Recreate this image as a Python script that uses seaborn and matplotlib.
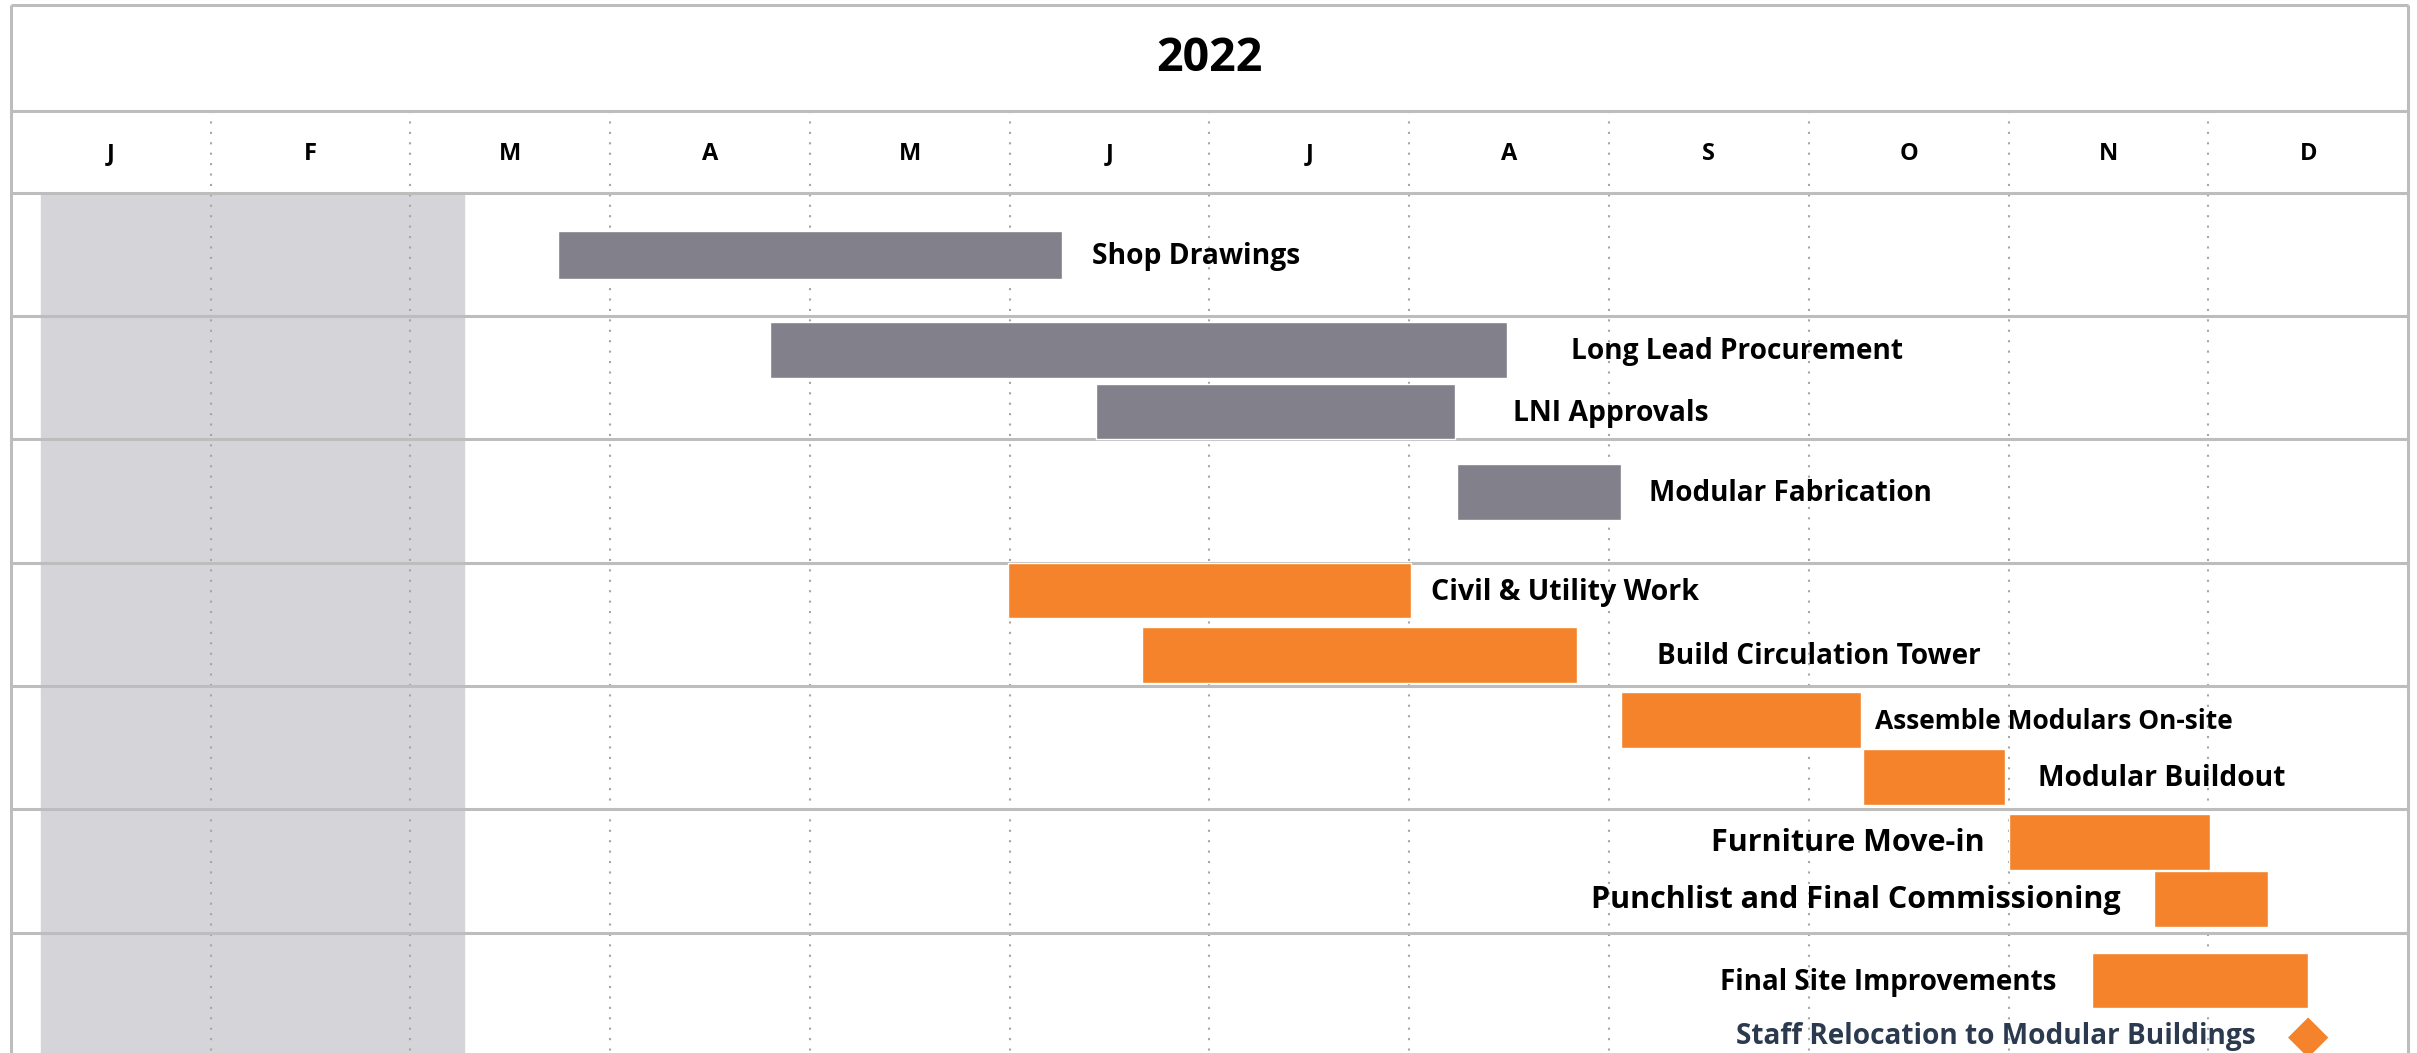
import matplotlib.pyplot as plt
import seaborn as sns
import pandas as pd

# data ---------------------------------------------------------------
year = "2022"
months = ["J", "F", "M", "A", "M", "J", "J", "A", "S", "O", "N", "D"]
tasks = ["Shop Drawings", "Long Lead Procurement", "LNI Approvals",
         "Modular Fabrication", "Civil & Utility Work", "Build Circulation Tower",
         "Assemble Modulars On-site", "Modular Buildout", "Furniture Move-in",
         "Punchlist and Final Commissioning", "Final Site Improvements"]
# start / finish in months from 1 Jan
starts = [2.74, 3.80, 5.43, 7.24, 4.99, 5.66, 8.06, 9.27, 10.00, 10.73, 10.42]
ends = [5.26, 7.49, 7.23, 8.06, 7.01, 7.84, 9.26, 9.98, 11.01, 11.30, 11.50]
phase = ["design", "design", "design", "design", "build", "build",
         "build", "build", "build", "build", "build"]
milestone = "Staff Relocation to Modular Buildings"
milestone_at = [11.50]
shaded = [0.15, 2.27]

df = pd.DataFrame({"task": tasks, "start": starts, "end": ends, "phase": phase})
df["dur"] = df["end"] - df["start"]

# layout (y in px of a 683 px tall canvas) ----------------------------
row_y = [165.5, 227, 267, 319, 383, 425, 467, 504, 546, 583, 636]
bar_h = [31, 36, 36, 36, 36, 36, 36, 36, 36, 36, 36]
label_x = [5.41, 7.81, 7.52, 8.20, 7.11, 8.24, 9.33, 10.15, 9.88, 10.56, 10.24]
label_ha = ["left"] * 8 + ["right"] * 3
label_fs = [20.3, 20.2, 20.3, 20.1, 20.6, 20.2, 19.0, 20.3, 22.0, 22.0, 20.0]
colors = {"design": "#81808b", "build": "#f5832b"}

sns.set_style("white")
plt.rcParams["font.family"] = ["Open Sans", "DejaVu Sans"]

fig = plt.figure(figsize=(24.17, 10.53), dpi=100)
ax = fig.add_axes([0, 0, 1, 1])
x0, mw = 7, 129.6
ax.set_xlim(-x0 / mw, (1568 - x0) / mw)
ax.set_ylim(683, 0)
ax.axis("off")

# shaded (past) period
ax.axvspan(shaded[0], shaded[1], ymin=0, ymax=1 - 125 / 683, color="#d5d4d9", zorder=0)

# frame & grid
line_c = "#bdbdbd"
ax.vlines(range(1, 12), 72, 683, colors="#a6a6a6", linestyles=(0, (1, 4)), lw=1.5, zorder=1)
for y in [72, 125, 205, 285, 365, 445, 525, 605]:
    ax.hlines(y, 0, 12, colors=line_c, lw=2.2, zorder=1)
ax.hlines(3, 0, 12, colors=line_c, lw=2.2, zorder=1)
ax.vlines([0, 12], 3, 683, colors=line_c, lw=2.2, zorder=1)

ax.text(6, 38, year, ha="center", va="center", fontsize=33.5, fontweight="bold", color="black")
for i, m in enumerate(months):
    ax.text(i + 0.5, 100, m, ha="center", va="center", fontsize=17,
            fontweight="bold", color="black")

# bars
ax.barh(row_y, df["dur"], left=df["start"], height=bar_h,
        color=[colors[p] for p in df["phase"]], zorder=2)
for i, t in enumerate(tasks):
    ax.text(label_x[i], row_y[i] + 1, t, ha=label_ha[i], va="center",
            fontsize=label_fs[i], fontweight="bold", color="black", zorder=3)

# milestone
sns.scatterplot(x=milestone_at, y=[673], marker="D", s=420, color="#f5832b",
                edgecolor="none", ax=ax, zorder=3)
ax.text(11.24, 672, milestone, ha="right", va="center", fontsize=20.2,
        fontweight="bold", color="#2b3a4e", zorder=3)
ax.set_xlim(-x0 / mw, (1568 - x0) / mw)
ax.set_ylim(683, 0)

fig.savefig("out.png", dpi=100)
